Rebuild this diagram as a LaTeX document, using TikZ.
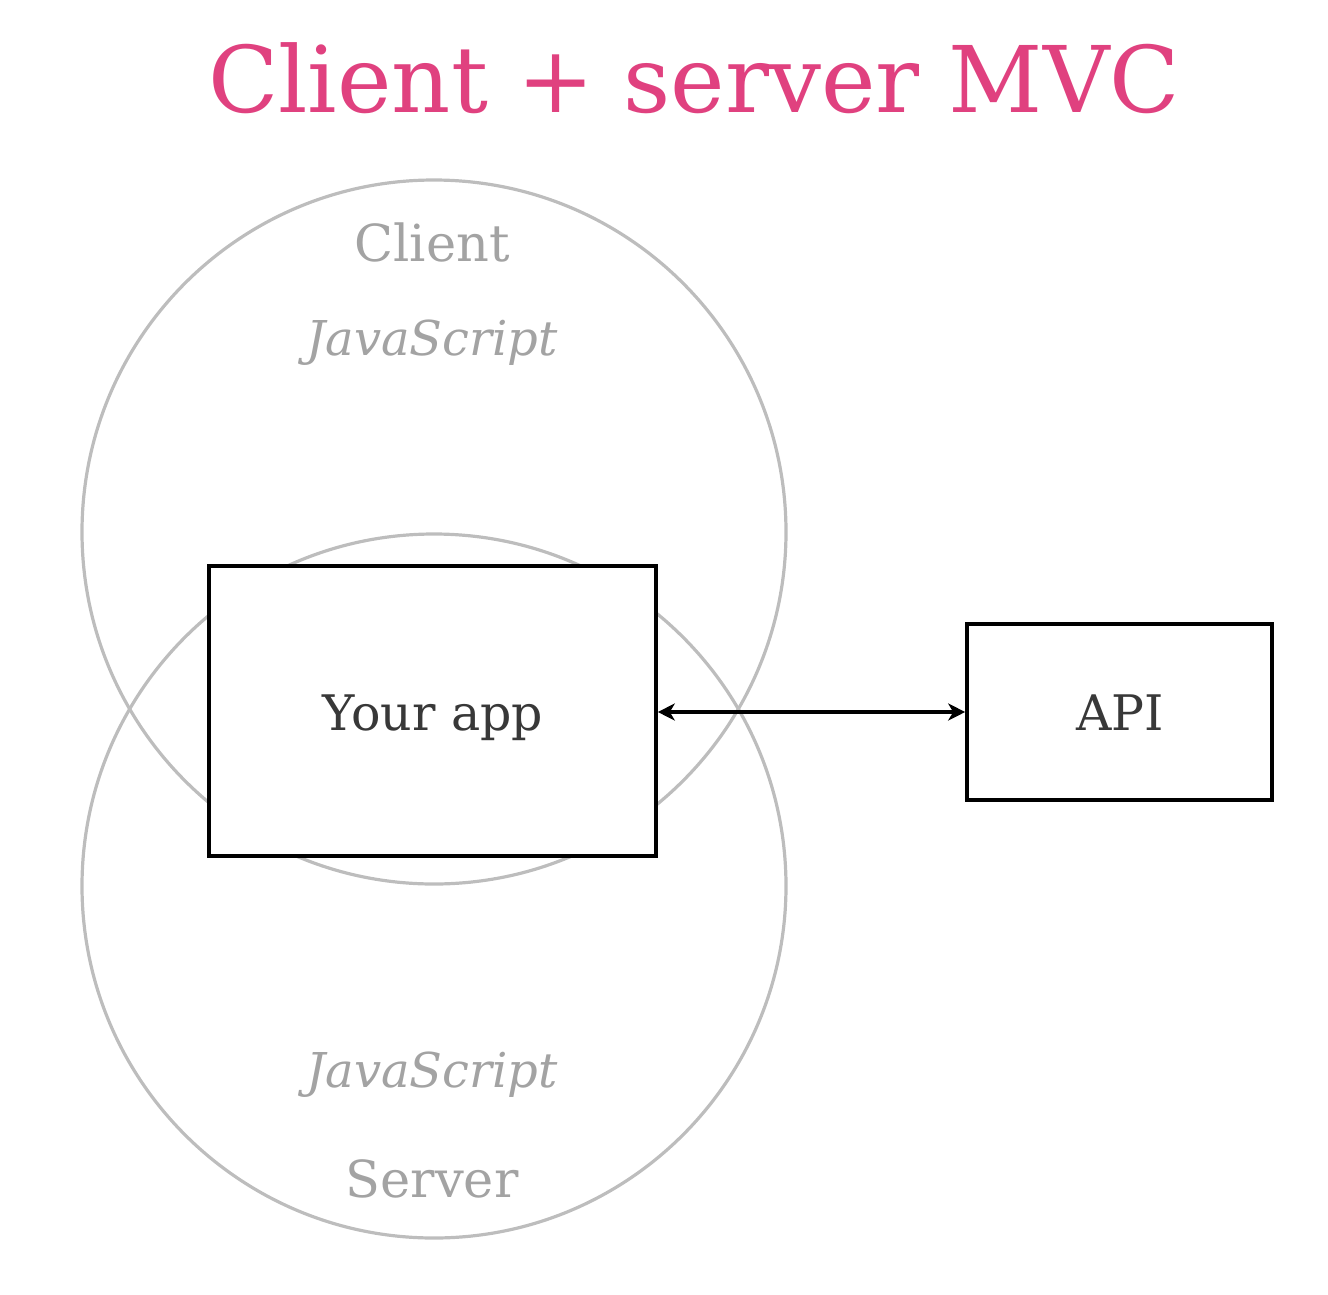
\documentclass[tikz,border=0pt]{standalone}
\usepackage{fontspec}
\setmainfont{DejaVu Serif}
\usetikzlibrary{arrows.meta}
\definecolor{titlepink}{HTML}{E0417F}
\definecolor{ringgray}{HTML}{BDBDBD}
\definecolor{labelgray}{HTML}{A3A3A3}
\definecolor{darktext}{HTML}{383838}
\tikzset{
  ring/.style={draw=ringgray, line width=3.2pt},
  boxnode/.style={draw=black, line width=3.6pt, fill=white, inner sep=0pt},
  ringlabel/.style={text=labelgray, font=\fontsize{51}{60}\selectfont, inner sep=0pt, anchor=base},
  ringitalic/.style={ringlabel, font=\fontsize{48}{56}\selectfont\itshape},
  boxlabel/.style={text=darktext, font=\fontsize{49}{58}\selectfont, inner sep=0pt, anchor=base},
  link/.style={line width=3.4pt, {Stealth[length=17pt,width=17pt,inset=5pt]}-{Stealth[length=17pt,width=17pt,inset=5pt]}}
}
\begin{document}
\begin{tikzpicture}[x=1pt,y=-1pt]
\useasboundingbox (0,0) rectangle (1328,1294);
\node[text=titlepink, font=\fontsize{92}{100}\selectfont, inner sep=0pt, anchor=base] (title) at (694,112) {Client + server MVC};
\draw[ring] (434,532) circle (352);
\draw[ring] (434,886) circle (352);
\node[ringlabel] (client) at (432,261) {Client};
\node[ringitalic] (jstop) at (432,355) {JavaScript};
\node[ringitalic] (jsbot) at (432,1087) {JavaScript};
\node[ringlabel] (server) at (432,1197) {Server};
\node[boxnode, minimum width=447pt, minimum height=290pt] (app) at (432.5,711) {};
\node[boxnode, minimum width=305pt, minimum height=176pt] (api) at (1119.5,712) {};
\node[boxlabel] (applabel) at (433,730) {Your app};
\node[boxlabel] (apilabel) at (1120,730) {API};
\draw[link] (app.east |- 0,712) -- (api.west |- 0,712);
\end{tikzpicture}
\end{document}
